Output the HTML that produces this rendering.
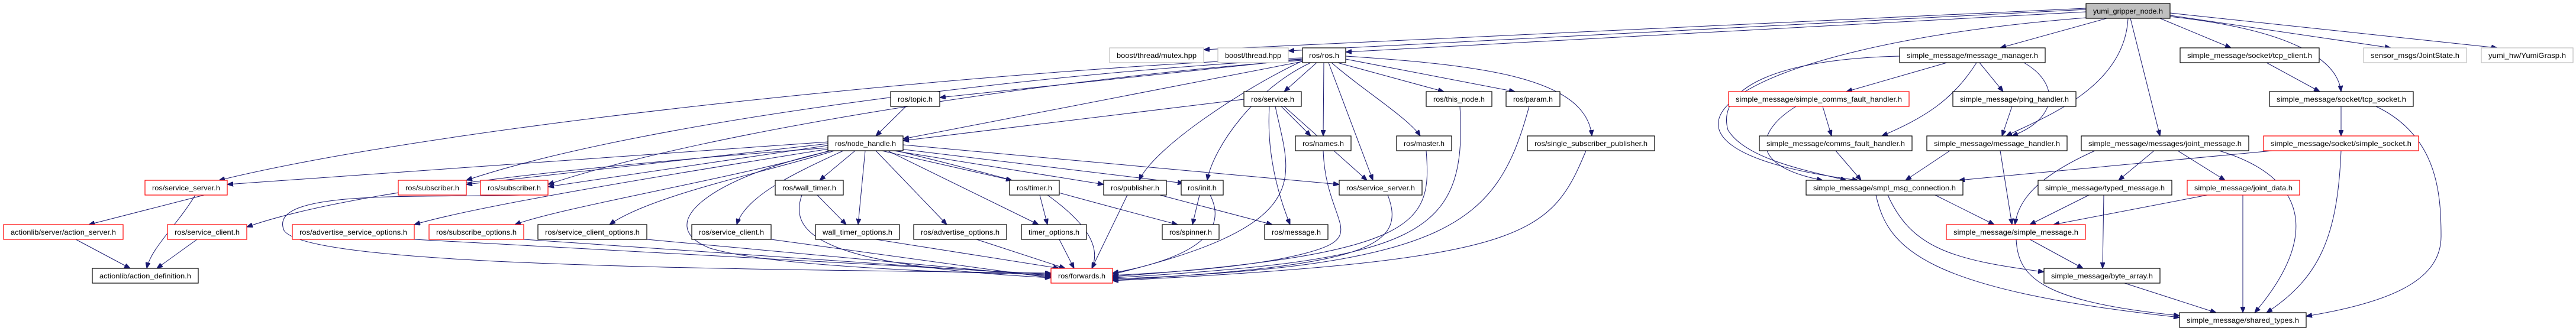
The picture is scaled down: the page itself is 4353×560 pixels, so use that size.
<!DOCTYPE html>
<html><head><meta charset="utf-8"><style>
html,body{margin:0;padding:0;background:#fff;}
svg{display:block;}
text{font-family:"Liberation Sans",sans-serif;font-size:12px;fill:#000;}
.n{fill:#fff;stroke:#000;stroke-width:1.2;}
.r{fill:#fff;stroke:#ff0000;stroke-width:1.2;}
.g{fill:#fff;stroke:#bfbfbf;stroke-width:1.2;}
.e path{fill:none;stroke:#191970;stroke-width:1;marker-end:url(#ah);}
</style></head><body>
<svg width="4353" height="560" viewBox="0 0 4353 560" xmlns="http://www.w3.org/2000/svg">
<defs><marker id="ah" markerUnits="userSpaceOnUse" markerWidth="10" markerHeight="8" refX="10" refY="4" orient="auto"><path d="M0,0 L10,4 L0,8 z" fill="#191970" stroke="#191970"/></marker></defs>
<g class="e">
<path d="M3525 14 L2034 84"/><path d="M3525 16 L2177 86"/><path d="M3525 20 L2274 88"/>
<path d="M3560 31 L3380 81"/><path d="M3650 31 L3770 81"/><path d="M3667 26 L4040 81"/><path d="M3667 22 L4220 81"/>
<path d="M3667 28 C3870 50,3950 100,3956 155"/><path d="M3596 31 C3590 150,3450 200,3390 230"/>
<path d="M3600 31 L3650 230"/><path d="M3525 30 C2900 80,2700 250,3140 305"/>
<path d="M2201 100 L1588 165"/><path d="M2225 106 L2170 155"/><path d="M2201 104 L1526 235"/>
<path d="M2201 98 C1800 110,800 200,370 305"/><path d="M2201 100 C1800 120,1100 200,788 305"/>
<path d="M2201 102 C1800 130,1200 220,926 312"/><path d="M2237 106 L2236 230"/>
<path d="M2260 106 L2440 155"/><path d="M2274 100 L2560 155"/>
<path d="M2250 106 C2300 150,2380 200,2400 230"/><path d="M2274 95 C2500 110,2680 130,2690 230"/>
<path d="M2245 106 L2320 305"/><path d="M2201 103 C2100 150,1950 250,1925 305"/>
<path d="M2215 106 C2120 150,2050 250,2040 305"/>
<path d="M1531 180 L1480 230"/><path d="M2102 168 L1526 238"/><path d="M2165 180 L2215 230"/>
<path d="M2145 180 C2140 260,2160 330,2180 380"/><path d="M2155 180 C2180 300,2230 380,1880 464"/>
<path d="M2170 180 L2310 305"/>
<path d="M1399 240 L384 312"/><path d="M1399 243 L788 312"/><path d="M1399 246 L926 316"/>
<path d="M1399 250 C1000 280,600 320,417 384"/><path d="M1400 252 C1100 300,800 350,700 380"/>
<path d="M1405 254 C1250 300,950 350,870 380"/><path d="M1410 255 C1300 290,1100 330,1030 380"/>
<path d="M1425 255 C1350 290,1260 330,1245 380"/><path d="M1445 255 L1385 305"/>
<path d="M1462 255 L1450 380"/><path d="M1480 255 L1600 380"/><path d="M1490 255 L1710 305"/>
<path d="M1500 255 L1755 380"/><path d="M1510 255 L1865 312"/><path d="M1520 252 L2000 310"/>
<path d="M1515 255 C1700 300,1800 330,1990 380"/><path d="M1526 245 L2263 312"/>
<path d="M1405 255 C1200 300,1100 380,1200 420 C1300 450,1600 462,1776 464"/>
<path d="M880 330 C700 335,450 320,480 390 C520 450,1200 455,1776 462"/>
<path d="M700 405 L1776 464"/><path d="M885 405 L1776 466"/><path d="M1093 405 L1776 468"/>
<path d="M1303 405 L1776 470"/><path d="M1355 330 C1330 400,1400 450,1776 470"/>
<path d="M1480 405 L1790 454"/><path d="M1650 405 L1800 454"/><path d="M1790 405 L1815 454"/>
<path d="M1770 330 C1840 380,1860 420,1845 454"/><path d="M1905 330 L1845 454"/>
<path d="M2045 330 C2080 400,2000 440,1880 462"/>
<path d="M2236 255 C2240 380,2320 400,2200 430 C2100 455,1950 462,1880 466"/>
<path d="M2410 255 C2420 380,2400 430,1880 468"/><path d="M2467 180 C2480 400,2400 440,1880 470"/>
<path d="M2584 180 C2530 380,2450 450,1880 472"/><path d="M2680 255 C2620 400,2580 440,1880 475"/>
<path d="M2345 330 C2380 420,2300 450,1880 474"/>
<path d="M345 330 L150 380"/><path d="M330 330 C300 380,255 420,248 454"/>
<path d="M128 405 L220 454"/><path d="M333 405 L265 454"/>
<path d="M1381 330 L1430 380"/><path d="M1757 330 L1770 380"/><path d="M1960 330 L2150 380"/><path d="M2027 330 L2015 380"/>
<path d="M3290 106 L3120 155"/><path d="M3345 106 L3385 155"/>
<path d="M3420 106 C3480 140,3480 200,3400 230"/>
<path d="M3210 95 C3000 100,2900 150,2920 220 C2950 270,3060 290,3120 305"/>
<path d="M3340 106 C3300 170,3250 200,3180 230"/><path d="M3080 180 L3095 230"/>
<path d="M3035 180 C2970 220,2950 280,3080 305"/><path d="M3400 180 L3383 230"/>
<path d="M3295 255 L3220 305"/><path d="M3380 255 L3400 380"/><path d="M3102 255 L3145 305"/>
<path d="M3540 255 C3440 300,3410 340,3405 380"/><path d="M3640 255 L3580 305"/><path d="M3680 255 L3760 305"/>
<path d="M3750 255 C3900 300,3920 400,3810 529"/><path d="M3840 255 L3310 305"/>
<path d="M3956 255 C3950 400,3920 470,3830 529"/><path d="M3830 106 L3920 155"/><path d="M3956 180 L3956 230"/>
<path d="M4015 180 C4120 230,4125 330,4125 400 C4125 470,4050 510,3897 535"/>
<path d="M3270 330 L3370 380"/><path d="M3190 330 C3230 420,3300 440,3454 460"/>
<path d="M3170 330 C3190 420,3250 490,3683 537"/><path d="M3530 330 L3430 380"/>
<path d="M3555 330 L3553 454"/><path d="M3730 330 L3470 380"/><path d="M3790 330 L3790 529"/>
<path d="M3430 405 L3520 454"/><path d="M3407 405 C3410 470,3450 510,3683 534"/><path d="M3590 479 L3745 529"/>
</g>
<g>
<rect x="3525" y="6" width="142" height="25" fill="#bfbfbf" stroke="#000" stroke-width="1.2"/><text x="3596" y="23" text-anchor="middle" textLength="118" lengthAdjust="spacingAndGlyphs">yumi_gripper_node.h</text>
<rect class="g" x="1875" y="81" width="159" height="25"/><text x="1954.5" y="98" text-anchor="middle" textLength="135" lengthAdjust="spacingAndGlyphs">boost/thread/mutex.hpp</text>
<rect class="g" x="2058" y="81" width="119" height="25"/><text x="2117.5" y="98" text-anchor="middle" textLength="95" lengthAdjust="spacingAndGlyphs">boost/thread.hpp</text>
<rect class="n" x="2201" y="81" width="73" height="25"/><text x="2237.5" y="98" text-anchor="middle" textLength="51" lengthAdjust="spacingAndGlyphs">ros/ros.h</text>
<rect class="n" x="3210" y="81" width="246" height="25"/><text x="3333" y="98" text-anchor="middle" textLength="222" lengthAdjust="spacingAndGlyphs">simple_message/message_manager.h</text>
<rect class="n" x="3684" y="81" width="235" height="25"/><text x="3801.5" y="98" text-anchor="middle" textLength="211" lengthAdjust="spacingAndGlyphs">simple_message/socket/tcp_client.h</text>
<rect class="g" x="3994" y="81" width="174" height="25"/><text x="4081" y="98" text-anchor="middle" textLength="150" lengthAdjust="spacingAndGlyphs">sensor_msgs/JointState.h</text>
<rect class="g" x="4193" y="81" width="155" height="25"/><text x="4270.5" y="98" text-anchor="middle" textLength="131" lengthAdjust="spacingAndGlyphs">yumi_hw/YumiGrasp.h</text>
<rect class="n" x="1505" y="155" width="83" height="25"/><text x="1546.5" y="172" text-anchor="middle" textLength="59" lengthAdjust="spacingAndGlyphs">ros/topic.h</text>
<rect class="n" x="2102" y="155" width="97" height="25"/><text x="2150.5" y="172" text-anchor="middle" textLength="73" lengthAdjust="spacingAndGlyphs">ros/service.h</text>
<rect class="n" x="2410" y="155" width="111" height="25"/><text x="2465.5" y="172" text-anchor="middle" textLength="87" lengthAdjust="spacingAndGlyphs">ros/this_node.h</text>
<rect class="n" x="2545" y="155" width="91" height="25"/><text x="2590.5" y="172" text-anchor="middle" textLength="67" lengthAdjust="spacingAndGlyphs">ros/param.h</text>
<rect class="r" x="2921" y="155" width="305" height="25"/><text x="3073.5" y="172" text-anchor="middle" textLength="281" lengthAdjust="spacingAndGlyphs">simple_message/simple_comms_fault_handler.h</text>
<rect class="n" x="3300" y="155" width="208" height="25"/><text x="3404" y="172" text-anchor="middle" textLength="184" lengthAdjust="spacingAndGlyphs">simple_message/ping_handler.h</text>
<rect class="n" x="3835" y="155" width="243" height="25"/><text x="3956.5" y="172" text-anchor="middle" textLength="219" lengthAdjust="spacingAndGlyphs">simple_message/socket/tcp_socket.h</text>
<rect class="n" x="1399" y="230" width="127" height="25"/><text x="1462.5" y="247" text-anchor="middle" textLength="103" lengthAdjust="spacingAndGlyphs">ros/node_handle.h</text>
<rect class="n" x="2189" y="230" width="94" height="25"/><text x="2236" y="247" text-anchor="middle" textLength="70" lengthAdjust="spacingAndGlyphs">ros/names.h</text>
<rect class="n" x="2360" y="230" width="93" height="25"/><text x="2406.5" y="247" text-anchor="middle" textLength="69" lengthAdjust="spacingAndGlyphs">ros/master.h</text>
<rect class="n" x="2581" y="230" width="215" height="25"/><text x="2688.5" y="247" text-anchor="middle" textLength="191" lengthAdjust="spacingAndGlyphs">ros/single_subscriber_publisher.h</text>
<rect class="n" x="2973" y="230" width="258" height="25"/><text x="3102" y="247" text-anchor="middle" textLength="234" lengthAdjust="spacingAndGlyphs">simple_message/comms_fault_handler.h</text>
<rect class="n" x="3256" y="230" width="237" height="25"/><text x="3374.5" y="247" text-anchor="middle" textLength="213" lengthAdjust="spacingAndGlyphs">simple_message/message_handler.h</text>
<rect class="n" x="3517" y="230" width="283" height="25"/><text x="3658.5" y="247" text-anchor="middle" textLength="259" lengthAdjust="spacingAndGlyphs">simple_message/messages/joint_message.h</text>
<rect class="r" x="3825" y="230" width="262" height="25"/><text x="3956" y="247" text-anchor="middle" textLength="238" lengthAdjust="spacingAndGlyphs">simple_message/socket/simple_socket.h</text>
<rect class="r" x="245" y="305" width="139" height="25"/><text x="314.5" y="322" text-anchor="middle" textLength="115" lengthAdjust="spacingAndGlyphs">ros/service_server.h</text>
<rect class="r" x="673" y="305" width="115" height="25"/><text x="730.5" y="322" text-anchor="middle" textLength="91" lengthAdjust="spacingAndGlyphs">ros/subscriber.h</text>
<rect class="r" x="812" y="305" width="114" height="25"/><text x="869" y="322" text-anchor="middle" textLength="90" lengthAdjust="spacingAndGlyphs">ros/subscriber.h</text>
<rect class="n" x="1310" y="305" width="115" height="25"/><text x="1367.5" y="322" text-anchor="middle" textLength="91" lengthAdjust="spacingAndGlyphs">ros/wall_timer.h</text>
<rect class="n" x="1706" y="305" width="84" height="25"/><text x="1748" y="322" text-anchor="middle" textLength="60" lengthAdjust="spacingAndGlyphs">ros/timer.h</text>
<rect class="n" x="1865" y="305" width="106" height="25"/><text x="1918" y="322" text-anchor="middle" textLength="82" lengthAdjust="spacingAndGlyphs">ros/publisher.h</text>
<rect class="n" x="1996" y="305" width="71" height="25"/><text x="2031.5" y="322" text-anchor="middle" textLength="49" lengthAdjust="spacingAndGlyphs">ros/init.h</text>
<rect class="n" x="2263" y="305" width="140" height="25"/><text x="2333" y="322" text-anchor="middle" textLength="116" lengthAdjust="spacingAndGlyphs">ros/service_server.h</text>
<rect class="n" x="3052" y="305" width="265" height="25"/><text x="3184.5" y="322" text-anchor="middle" textLength="241" lengthAdjust="spacingAndGlyphs">simple_message/smpl_msg_connection.h</text>
<rect class="n" x="3444" y="305" width="226" height="25"/><text x="3557" y="322" text-anchor="middle" textLength="202" lengthAdjust="spacingAndGlyphs">simple_message/typed_message.h</text>
<rect class="r" x="3696" y="305" width="190" height="25"/><text x="3791" y="322" text-anchor="middle" textLength="166" lengthAdjust="spacingAndGlyphs">simple_message/joint_data.h</text>
<rect class="r" x="6" y="380" width="202" height="25"/><text x="107" y="397" text-anchor="middle" textLength="178" lengthAdjust="spacingAndGlyphs">actionlib/server/action_server.h</text>
<rect class="r" x="283" y="380" width="134" height="25"/><text x="350" y="397" text-anchor="middle" textLength="110" lengthAdjust="spacingAndGlyphs">ros/service_client.h</text>
<rect class="r" x="494" y="380" width="206" height="25"/><text x="597" y="397" text-anchor="middle" textLength="182" lengthAdjust="spacingAndGlyphs">ros/advertise_service_options.h</text>
<rect class="r" x="725" y="380" width="160" height="25"/><text x="805" y="397" text-anchor="middle" textLength="136" lengthAdjust="spacingAndGlyphs">ros/subscribe_options.h</text>
<rect class="n" x="909" y="380" width="184" height="25"/><text x="1001" y="397" text-anchor="middle" textLength="160" lengthAdjust="spacingAndGlyphs">ros/service_client_options.h</text>
<rect class="n" x="1169" y="380" width="134" height="25"/><text x="1236" y="397" text-anchor="middle" textLength="110" lengthAdjust="spacingAndGlyphs">ros/service_client.h</text>
<rect class="n" x="1378" y="380" width="142" height="25"/><text x="1449" y="397" text-anchor="middle" textLength="118" lengthAdjust="spacingAndGlyphs">wall_timer_options.h</text>
<rect class="n" x="1544" y="380" width="157" height="25"/><text x="1622.5" y="397" text-anchor="middle" textLength="133" lengthAdjust="spacingAndGlyphs">ros/advertise_options.h</text>
<rect class="n" x="1726" y="380" width="110" height="25"/><text x="1781" y="397" text-anchor="middle" textLength="86" lengthAdjust="spacingAndGlyphs">timer_options.h</text>
<rect class="n" x="1964" y="380" width="96" height="25"/><text x="2012" y="397" text-anchor="middle" textLength="72" lengthAdjust="spacingAndGlyphs">ros/spinner.h</text>
<rect class="n" x="2137" y="380" width="107" height="25"/><text x="2190.5" y="397" text-anchor="middle" textLength="83" lengthAdjust="spacingAndGlyphs">ros/message.h</text>
<rect class="r" x="3289" y="380" width="235" height="25"/><text x="3406.5" y="397" text-anchor="middle" textLength="211" lengthAdjust="spacingAndGlyphs">simple_message/simple_message.h</text>
<rect class="n" x="156" y="454" width="179" height="25"/><text x="245.5" y="471" text-anchor="middle" textLength="155" lengthAdjust="spacingAndGlyphs">actionlib/action_definition.h</text>
<rect class="r" x="1776" y="454" width="104" height="25"/><text x="1828" y="471" text-anchor="middle" textLength="80" lengthAdjust="spacingAndGlyphs">ros/forwards.h</text>
<rect class="n" x="3454" y="454" width="196" height="25"/><text x="3552" y="471" text-anchor="middle" textLength="172" lengthAdjust="spacingAndGlyphs">simple_message/byte_array.h</text>
<rect class="n" x="3683" y="529" width="214" height="25"/><text x="3790" y="546" text-anchor="middle" textLength="190" lengthAdjust="spacingAndGlyphs">simple_message/shared_types.h</text>
</g>
</svg>
</body></html>
